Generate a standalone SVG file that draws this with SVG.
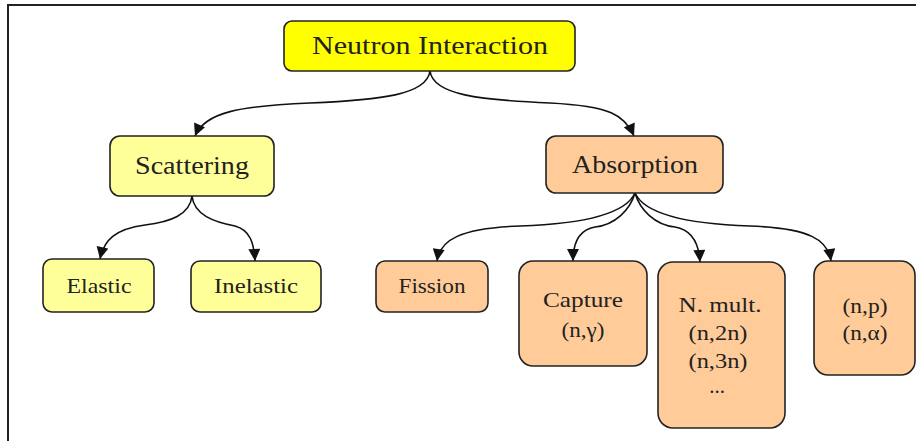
<svg xmlns="http://www.w3.org/2000/svg" width="916" height="441" viewBox="0 0 916 441" font-family="'Liberation Serif', 'DejaVu Serif', serif">
<defs>
<marker id="arr" viewBox="0 0 10 10" refX="10" refY="5" markerWidth="13" markerHeight="12" markerUnits="userSpaceOnUse" orient="auto">
<path d="M0,0 L10,5 L0,10 z" fill="#111"/>
</marker>
<style>
.box{stroke:#222;stroke-width:1.6}
.root{fill:#ffff00}
.yel{fill:#ffff99}
.pch{fill:#ffcc99}
text{fill:#222;text-anchor:middle}
.big{font-size:26px}
.sm{font-size:21px}
.conn path{fill:none;stroke:#111;stroke-width:1.6;marker-end:url(#arr)}
</style>
</defs>
<rect width="916" height="441" fill="#fff"/>
<path d="M8,441 L8,5 L916,5" fill="none" stroke="#222" stroke-width="2"/>

<g class="conn" id="connectors">
<path d="M430,71 C427,95 380,100 310,103 C240,106 205,112 195,136"/>
<path d="M430,71 C433,95 480,100 550,103 C610,106 625,115 634,136"/>
<path d="M192,196 C190,215 170,222 145,225 C115,229 104,240 100,259"/>
<path d="M192,196 C194,215 214,222 235,226 C250,230 254,243 255,261"/>
<path d="M635,193 C625,215 580,224 520,226 C460,228 440,240 437,261"/>
<path d="M635,193 C630,210 615,225 595,227 C578,230 573,245 573,261"/>
<path d="M635,193 C640,210 655,225 675,227 C693,230 699,245 700,262"/>
<path d="M635,193 C645,215 690,224 750,226 C810,228 828,240 831,261"/>
</g>

<g id="root">
<rect class="box root" x="284" y="21" width="291" height="50" rx="8"/>
<text class="big" x="430" y="54" textLength="236" lengthAdjust="spacingAndGlyphs" font-family="'Liberation Serif', serif">Neutron Interaction</text>
</g>
<g id="scattering">
<rect class="box yel" x="110" y="136" width="164" height="60" rx="10"/>
<text class="big" x="192" y="174" textLength="114" lengthAdjust="spacingAndGlyphs" font-family="'Liberation Serif', serif">Scattering</text>
</g>
<g id="absorption">
<rect class="box pch" x="546" y="136" width="177" height="57" rx="10"/>
<text class="big" x="635" y="173" textLength="126" lengthAdjust="spacingAndGlyphs" font-family="'Liberation Serif', serif">Absorption</text>
</g>
<g id="elastic">
<rect class="box yel" x="43" y="259" width="111" height="53" rx="9"/>
<text class="sm" x="99" y="293" textLength="65" lengthAdjust="spacingAndGlyphs" font-family="'Liberation Serif', serif">Elastic</text>
</g>
<g id="inelastic">
<rect class="box yel" x="191" y="261" width="130" height="51" rx="9"/>
<text class="sm" x="256" y="293" textLength="84" lengthAdjust="spacingAndGlyphs" font-family="'Liberation Serif', serif">Inelastic</text>
</g>
<g id="fission">
<rect class="box pch" x="376" y="261" width="112" height="51" rx="9"/>
<text class="sm" x="432" y="293" textLength="67" lengthAdjust="spacingAndGlyphs" font-family="'Liberation Serif', serif">Fission</text>
</g>
<g id="capture">
<rect class="box pch" x="519" y="261" width="128" height="105" rx="14"/>
<text class="sm" x="583" y="307" textLength="80" lengthAdjust="spacingAndGlyphs" font-family="'Liberation Serif', serif">Capture</text>
<text class="sm" x="583" y="337" textLength="43" lengthAdjust="spacingAndGlyphs" font-family="'Liberation Serif', serif">(n,γ)</text>
</g>
<g id="nmult">
<rect class="box pch" x="658" y="262" width="127" height="166" rx="15"/>
<text class="sm" x="720" y="312" textLength="83" lengthAdjust="spacingAndGlyphs" font-family="'Liberation Serif', serif">N. mult.</text>
<text class="sm" x="718" y="340" textLength="59" lengthAdjust="spacingAndGlyphs" font-family="'Liberation Serif', serif">(n,2n)</text>
<text class="sm" x="718" y="368" textLength="59" lengthAdjust="spacingAndGlyphs" font-family="'Liberation Serif', serif">(n,3n)</text>
<text class="sm" x="717" y="393" font-family="'Liberation Serif', serif">...</text>
</g>
<g id="np">
<rect class="box pch" x="814" y="261" width="101" height="114" rx="14"/>
<text class="sm" x="865" y="313" textLength="45" lengthAdjust="spacingAndGlyphs" font-family="'Liberation Serif', serif">(n,p)</text>
<text class="sm" x="865" y="340" textLength="45" lengthAdjust="spacingAndGlyphs" font-family="'Liberation Serif', serif">(n,α)</text>
</g>
</svg>
